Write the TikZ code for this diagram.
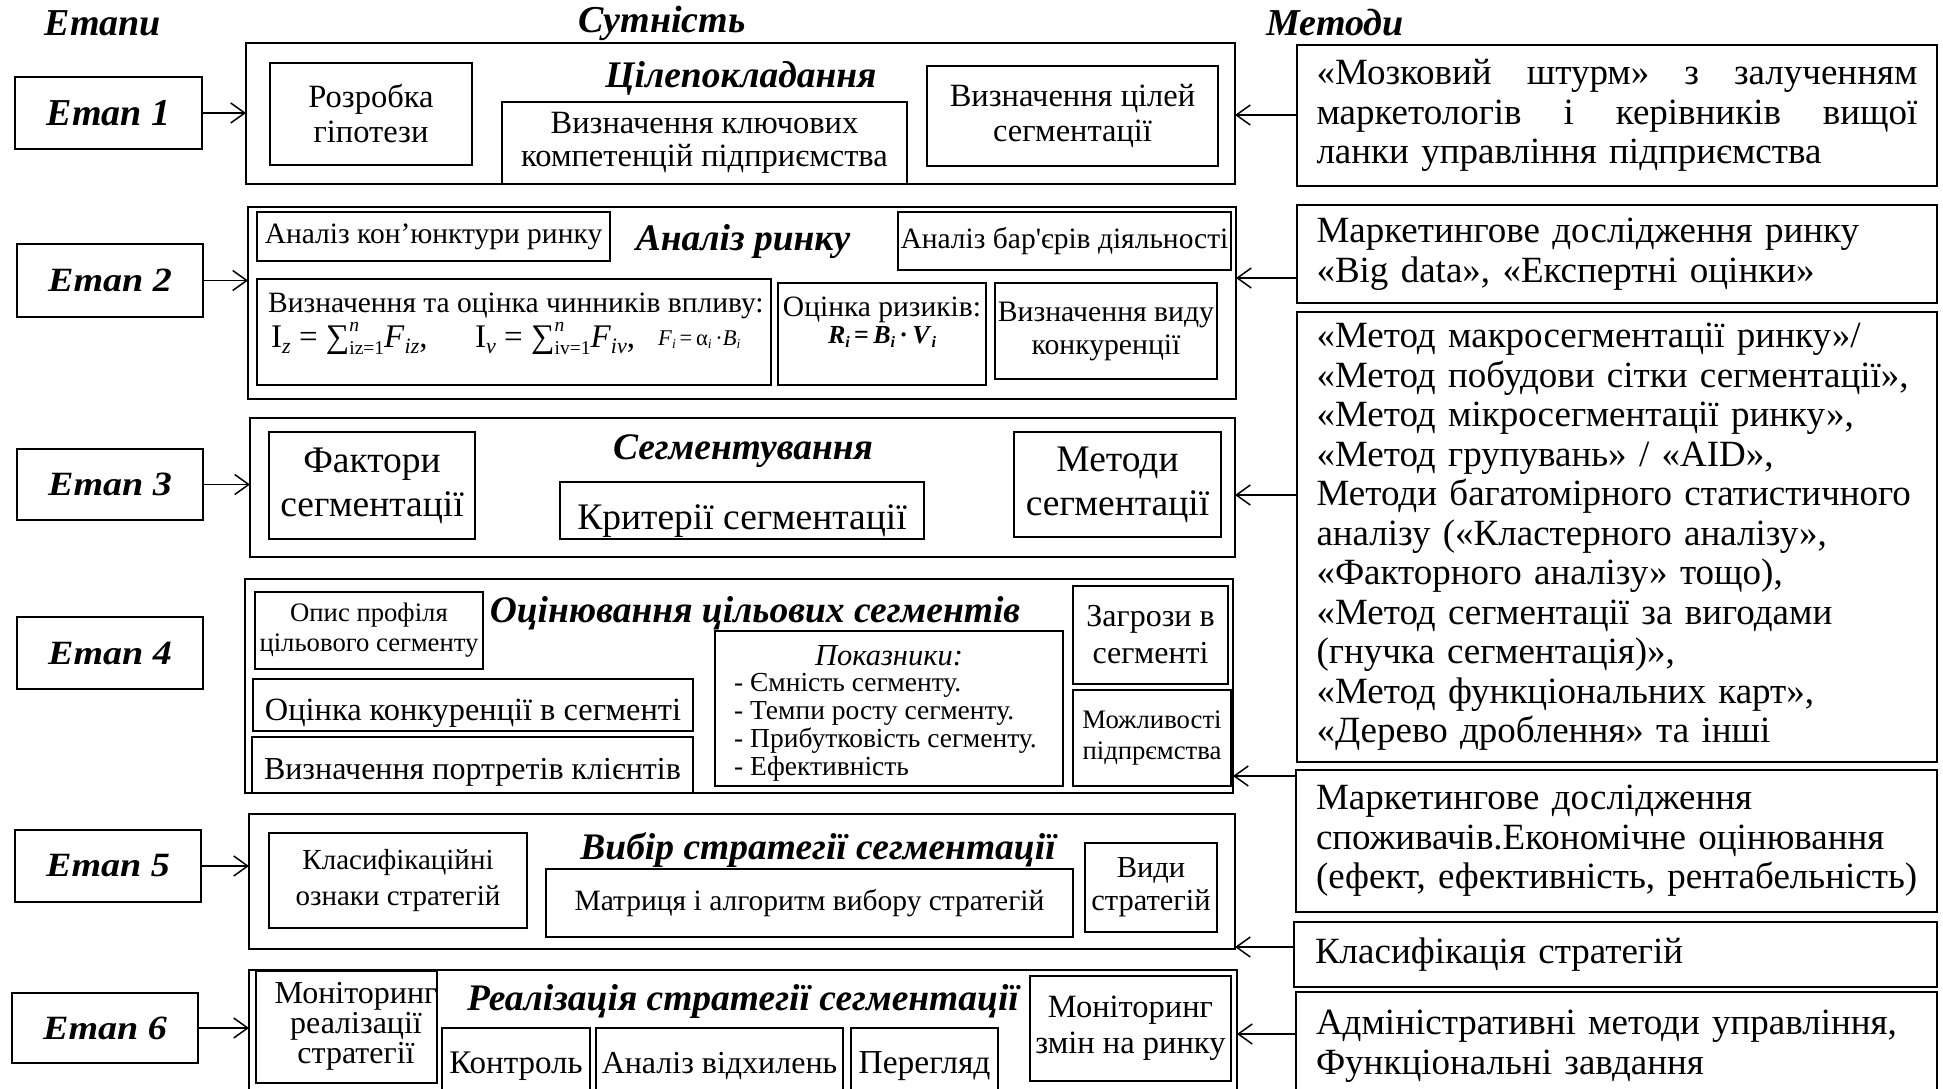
\documentclass[tikz,border=0pt]{standalone}
\usepackage{graphicx}
\usepackage{fontspec}
\setmainfont{Liberation Serif}
\newfontfamily\stagefont[FakeStretch=1.12]{Liberation Serif}
\usetikzlibrary{arrows.meta}
\newcommand\fsz[2]{\fontsize{#1pt}{#2pt}\selectfont}
% lowered index in a smaller size
\newcommand\idx[3]{\raisebox{-#1pt}{\fsz{#2}{#2}#3}}
% sum sign with its limits set to the right
\newcommand\sumlim[2]{∑\rlap{\raisebox{16pt}{\fsz{19.5}{19.5}\textit{#1}}}\raisebox{-7.5pt}{\fsz{19.5}{19.5}#2}}
% one line spread to the full width
\newcommand\jline[1]{\makebox[601pt][s]{\spaceskip=0pt\xspaceskip=0pt #1}}
% box given by its corners (x1,y1)-(x2,y2) in pixel units
\newcommand\rbox[7][]{\node[box,#1,minimum width={(#5-#3)*1pt},minimum height={(#6-#4)*1pt},anchor=north west] (#2) at (#3,#4) {#7};}
% box whose single text line sits on a given baseline and is cut by the frame
\newcommand\cbox[8][]{\rbox{#2}{#3}{#4}{#5}{#6}{}
  \begin{scope}\clip (#2.north west) rectangle (#2.south east);
  \node[anchor=base,inner sep=0pt,#1] (#2t) at ({(#3+#5)/2},#7) {#8};\end{scope}}
\begin{document}
\begin{tikzpicture}[x=1pt,y=-1pt,
  box/.style={draw,line width=1.4pt,inner sep=0pt,outer sep=0pt,align=center},
  head/.style={font=\bfseries\itshape\fsz{38}{40}},
  title/.style={font=\bfseries\itshape\fsz{37.5}{40},inner sep=0pt},
  stg/.style={box,font=\stagefont\bfseries\itshape\fsz{34}{38}},
  arr/.style={-{Straight Barb[length=14pt,width=20pt,line width=1.5pt]},line width=1.5pt},
  txt/.style={inner sep=0pt}]
\useasboundingbox (0,0) rectangle (1943,1089);
\fill[white] (0,0) rectangle (1943,1089);
\clip (0,0) rectangle (1943,1089);

% column headings
\node[head] (h1) at (103,23) {Етапи};
\node[head] (h2) at (662,23) {Сутність};
\node[head] (h3) at (1335,23) {Методи};

% stages
\rbox[box,font=\bfseries\itshape\fsz{38}{40}]{s1}{15}{77}{202}{149}{Етап 1}
\rbox[stg]{s2}{17}{244}{203}{317}{Етап 2}
\rbox[stg]{s3}{17}{449}{203}{520}{Етап 3}
\rbox[stg]{s4}{17}{617}{203}{689}{Етап 4}
\rbox[stg]{s5}{15}{830}{201}{902}{Етап 5}
\rbox[stg]{s6}{12}{993}{198}{1063}{Етап 6}

% essence frames
\rbox{b1}{246}{43}{1235}{184}{}
\rbox{b2}{248}{207}{1236}{399}{}
\rbox{b3}{250}{418}{1235}{557}{}
\rbox{b4}{245}{579}{1233}{793}{}
\rbox{b5}{249}{814}{1235}{949}{}
\rbox{b6}{249}{970}{1237}{1110}{}

% stage 1
\node[title] (t1) at (741,78) {Цілепокладання};
\rbox[font=\fsz{32.5}{35}]{b1a}{270}{63}{472}{165}{Розробка\\гіпотези}
\rbox[font=\fsz{32.5}{33}]{b1b}{502}{102}{907}{184}{Визначення ключових\\компетенцій підприємства}
\rbox[font=\fsz{32.5}{35}]{b1c}{927}{66}{1218}{166}{Визначення цілей\\сегментації}

% stage 2
\node[title] (t2) at (743,242) {Аналіз ринку};
\rbox[font=\fsz{29.5}{33}]{b2a}{257}{212}{610}{261}{Аналіз кон’юнктури ринку}
\rbox[font=\fsz{29.5}{33}]{b2b}{898}{212}{1231}{270}{Аналіз бар\textquotesingle єрів діяльності}
\rbox{b2c}{257}{279}{771}{385}{}
\node[txt,anchor=west,font=\fsz{29.5}{33}] (b2ct) at (268,306) {Визначення та оцінка чинників впливу:};
\node[txt,anchor=base west,font=\fsz{33}{35}] (b2cf1) at (271,347)
  {I\idx{6.5}{22}{\textit{z}} = \sumlim{n}{iz=1}\textit{F}\idx{6.5}{22}{\textit{iz}},};
\node[txt,anchor=base west,font=\fsz{33}{35}] (b2cf2) at (475,347)
  {I\idx{6.5}{22}{\textit{v}} = \sumlim{n}{iv=1}\textit{F}\idx{6.5}{22}{\textit{iv}},};
\node[txt,anchor=base west,font=\fsz{22.5}{24}] (b2cf3) at (658,345)
  {\textit{F}\idx{3.5}{13.5}{\textit{i}}\,=\,α\idx{3.5}{13.5}{\textit{i}}\,·\textit{B}\idx{3.5}{13.5}{\textit{i}}};
\rbox{b2d}{778}{283}{986}{385}{}
\node[txt,font=\fsz{29.5}{33}] (b2dt) at (882,310) {Оцінка ризиків:};
\node[txt,anchor=base,font=\bfseries\fsz{26}{28}] (b2df) at (882,343)
  {\textit{R}\idx{4}{16}{\textit{i}}\,=\,\textit{B}\idx{4}{16}{\textit{i}}\,·\,\textit{V}\idx{4}{16}{\textit{i}}};
\rbox[font=\fsz{29.7}{33}]{b2e}{995}{283}{1217}{379}{Визначення виду\\конкуренції}

% stage 3
\node[title] (t3) at (743,451) {Сегментування};
\rbox[font=\fsz{37.5}{44}]{b3a}{269}{432}{475}{539}{Фактори\\сегментації}
\cbox[font=\fsz{37.5}{40}]{b3b}{560}{482}{924}{539}{529}{Критерії сегментації}
\rbox[font=\fsz{37.5}{44}]{b3c}{1014}{432}{1221}{537}{Методи\\сегментації}

% stage 4
\node[title] (t4) at (755,613) {Оцінювання цільових сегментів};
\rbox[font=\fsz{26.7}{30}]{b4a}{255}{592}{483}{669}{Опис профіля\\цільового сегменту}
\cbox[font=\fsz{32.4}{35}]{b4b}{253}{679}{693}{731}{720}{Оцінка конкуренції в сегменті}
\cbox[font=\fsz{32}{35}]{b4c}{252}{737}{693}{793}{779}{Визначення портретів клієнтів}
\rbox{b4d}{715}{631}{1063}{786}{}
\node[txt,font=\itshape\fsz{30.5}{32}] (b4dh) at (889,656) {Показники:};
\node[txt,anchor=west,align=left,font=\fsz{27.5}{28.1}] (b4dl) at (734,727)
  {- Ємність сегменту.\\- Темпи росту сегменту.\\- Прибутковість сегменту.\\- Ефективність};
\rbox[font=\fsz{32}{37}]{b4e}{1073}{586}{1228}{684}{Загрози в\\сегменті}
\rbox[font=\fsz{26.7}{31}]{b4f}{1073}{690}{1231}{786}{Можливості\\підпрємства}

% stage 5
\node[title] (t5) at (818,850) {Вибір стратегії сегментації};
\rbox[font=\fsz{29}{36}]{b5a}{269}{833}{527}{928}{Класифікаційні\\ознаки стратегій}
\rbox[font=\fsz{29.5}{33}]{b5b}{546}{869}{1073}{937}{Матриця і алгоритм вибору стратегій}
\rbox[font=\fsz{30.5}{33}]{b5c}{1085}{843}{1217}{932}{Види\\стратегій}

% stage 6
\node[title] (t6) at (743,1001) {Реалізація стратегії сегментації};
\rbox{b6a}{256}{971}{437}{1083}{}
\node[txt,align=center,font=\fsz{32}{30}] (b6at) at (356,1026) {Моніторинг\\реалізації\\стратегії};
\cbox[font=\fsz{33}{35}]{b6b}{442}{1028}{590}{1110}{1073}{Контроль}
\cbox[font=\fsz{32}{35}]{b6c}{596}{1028}{843}{1110}{1073}{Аналіз відхилень}
\cbox[font=\fsz{33.5}{35}]{b6d}{851}{1028}{998}{1110}{1073}{Перегляд}
\rbox[font=\fsz{32.5}{36}]{b6e}{1030}{976}{1231}{1081}{Моніторинг\\змін на ринку}

% methods
\tikzset{meth/.style={align=left,text width=601pt,font=\fsz{37}{39.5}}}
\rbox[meth]{m1}{1297}{45}{1937}{186}{\jline{«Мозковий штурм» з залученням}\\\jline{маркетологів і керівників вищої}\\ланки управління підприємства}
\rbox[meth]{m2}{1297}{205}{1937}{303}{Маркетингове дослідження ринку\\«Big data», «Експертні оцінки»}
\rbox[meth]{m3}{1297}{312}{1937}{762}{«Метод макросегментації ринку»/\\\mbox{«Метод побудови сітки сегментації»,}\\«Метод мікросегментації ринку»,\\«Метод групувань» / «AID»,\\\mbox{Методи багатомірного статистичного}\\аналізу («Кластерного аналізу»,\\«Факторного аналізу» тощо),\\«Метод сегментації за вигодами\\(гнучка сегментація)»,\\«Метод функціональних карт»,\\«Дерево дроблення» та інші}
\rbox[meth]{m4}{1296}{770}{1937}{912}{Маркетингове дослідження\\\mbox{споживачів.Економічне оцінювання}\\\mbox{(ефект, ефективність, рентабельність)}}
\rbox[meth]{m5}{1294}{922}{1937}{987}{Класифікація стратегій}
\rbox[meth]{m6}{1296}{992}{1937}{1100}{\mbox{Адміністративні методи управління,}\\Функціональні завдання}

% stage -> essence
\draw[arr] (s1.east) -- (s1.east -| b1.west);
\draw[arr] (s2.east) -- (s2.east -| b2.west);
\draw[arr] (s3.east) -- (s3.east -| b3.west);
\draw[arr] (s5.east) -- (s5.east -| b5.west);
\draw[arr] (s6.east) -- (s6.east -| b6.west);

% methods -> essence
\coordinate (y1) at (0,115);
\coordinate (y2) at (0,278);
\coordinate (y3) at (0,495);
\coordinate (y4) at (0,776);
\coordinate (y5) at (0,947);
\coordinate (y6) at (0,1034);
\draw[arr] (m1.west |- y1) -- (b1.east |- y1);
\draw[arr] (m2.west |- y2) -- (b2.east |- y2);
\draw[arr] (m3.west |- y3) -- (b3.east |- y3);
\draw[arr] (m4.west |- y4) -- (b4.east |- y4);
\draw[arr] (m5.west |- y5) -- (b5.east |- y5);
\draw[arr] (m6.west |- y6) -- (b6.east |- y6);
\end{tikzpicture}
\end{document}
